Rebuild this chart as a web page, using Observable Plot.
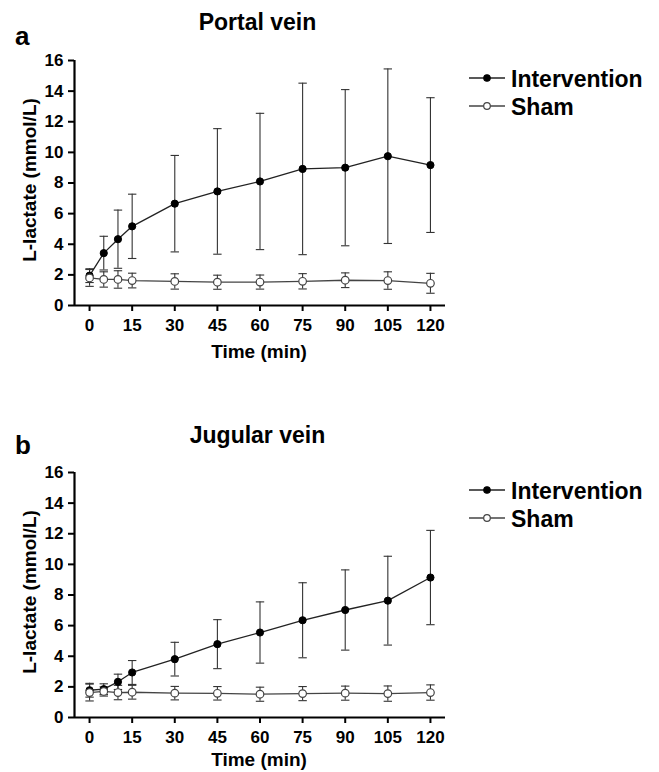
<!DOCTYPE html>
<html>
<head>
<meta charset="utf-8">
<script src="https://cdn.jsdelivr.net/npm/d3@7"></script>
<script src="https://cdn.jsdelivr.net/npm/@observablehq/plot@0.6"></script>
<style>
  html, body { margin: 0; padding: 0; background: #fff; }
  #wrap { position: relative; width: 659px; height: 772px; overflow: hidden; background: #fff; }
  .panel { position: absolute; left: 0; }
  #overlay { position: absolute; left: 0; top: 0; }
</style>
</head>
<body>
<div id="wrap"></div>
<script>
// ---- data ----
const times = [0, 5, 10, 15, 30, 45, 60, 75, 90, 105, 120];
const xTicks = [0, 15, 30, 45, 60, 75, 90, 105, 120];
const yTicks = [0, 2, 4, 6, 8, 10, 12, 14, 16];
const seriesNames = ["Intervention", "Sham"];
const panelTitles = ["Portal vein", "Jugular vein"];
const panelLetters = ["a", "b"];
const xLabel = "Time (min)";
const yLabel = "L-lactate (mmol/L)";

const portalInterventionMean = [1.95, 3.42, 4.33, 5.17, 6.65, 7.45, 8.10, 8.92, 9.00, 9.75, 9.17];
const portalInterventionSD   = [0.45, 1.10, 1.90, 2.10, 3.15, 4.10, 4.45, 5.60, 5.10, 5.70, 4.40];
const portalShamMean         = [1.80, 1.70, 1.70, 1.63, 1.57, 1.52, 1.53, 1.58, 1.65, 1.63, 1.45];
const portalShamSD           = [0.55, 0.50, 0.57, 0.48, 0.50, 0.46, 0.46, 0.50, 0.48, 0.57, 0.65];

const jugularInterventionMean = [1.78, 1.85, 2.33, 2.94, 3.81, 4.79, 5.55, 6.35, 7.02, 7.63, 9.14];
const jugularInterventionSD   = [0.45, 0.35, 0.50, 0.78, 1.10, 1.60, 2.00, 2.45, 2.62, 2.90, 3.08];
const jugularShamMean         = [1.63, 1.70, 1.63, 1.65, 1.59, 1.58, 1.52, 1.56, 1.59, 1.56, 1.63];
const jugularShamSD           = [0.55, 0.30, 0.47, 0.45, 0.44, 0.44, 0.46, 0.46, 0.46, 0.50, 0.50];

const FONT = "'Liberation Sans', Arial, Helvetica, sans-serif";
const xDomain = [-5.3, 125.3];
const yDomain = [0, 16];

const capSymbol = {
  draw(ctx, size) {
    const r = Math.sqrt(size / Math.PI);
    ctx.moveTo(-r, 0);
    ctx.lineTo(r, 0);
  }
};

function rows(mean, sd, g) {
  return times.map((t, i) => ({t, m: mean[i], lo: mean[i] - sd[i], hi: mean[i] + sd[i], g}));
}

function panel(intM, intSD, shamM, shamSD) {
  const I = rows(intM, intSD, seriesNames[0]);
  const S = rows(shamM, shamSD, seriesNames[1]);
  const all = I.concat(S);
  return Plot.plot({
    width: 460,
    height: 370,
    marginLeft: 74,
    marginRight: 15,
    marginTop: 60,
    marginBottom: 65,
    style: {fontFamily: FONT, fontWeight: "bold", fontSize: "17px", color: "#000", background: "transparent", overflow: "visible"},
    x: {domain: xDomain},
    y: {domain: yDomain},
    marks: [
      Plot.ruleX(all, {x: "t", y1: "lo", y2: "hi", stroke: "#333", strokeWidth: 1.1}),
      Plot.dot(all, {x: "t", y: "lo", symbol: capSymbol, r: 4.2, stroke: "#333", strokeWidth: 1.1, fill: "none"}),
      Plot.dot(all, {x: "t", y: "hi", symbol: capSymbol, r: 4.2, stroke: "#333", strokeWidth: 1.1, fill: "none"}),
      Plot.line(I, {x: "t", y: "m", stroke: "#222", strokeWidth: 1.3}),
      Plot.line(S, {x: "t", y: "m", stroke: "#444", strokeWidth: 1.3}),
      Plot.dot(I, {x: "t", y: "m", r: 3.6, fill: "#000", stroke: "#000", strokeWidth: 1}),
      Plot.dot(S, {x: "t", y: "m", r: 3.8, fill: "#fff", stroke: "#444", strokeWidth: 1.2}),
      Plot.ruleX([xDomain[0]], {stroke: "#000", strokeWidth: 2.2}),
      Plot.ruleY([yDomain[0]], {stroke: "#000", strokeWidth: 2.2}),
      Plot.axisX(xTicks, {tickSize: 6, tickPadding: 7, strokeWidth: 2, fontSize: "17px", fontWeight: "bold", label: null}),
      Plot.axisY(yTicks, {tickSize: 6, tickPadding: 5, strokeWidth: 2, fontSize: "17px", fontWeight: "bold", label: null})
    ]
  });
}

const wrap = document.getElementById("wrap");
const pA = panel(portalInterventionMean, portalInterventionSD, portalShamMean, portalShamSD);
pA.classList.add("panel"); pA.style.top = "0px";
wrap.appendChild(pA);
const pB = panel(jugularInterventionMean, jugularInterventionSD, jugularShamMean, jugularShamSD);
pB.classList.add("panel"); pB.style.top = "412px";
wrap.appendChild(pB);

// ---- text overlay: titles, panel letters, axis labels, legends ----
const ov = d3.select(wrap).append("svg").attr("id", "overlay")
  .attr("width", 659).attr("height", 772)
  .style("font-family", FONT).style("font-weight", "bold").style("fill", "#000");

const offsets = [0, 412];
offsets.forEach((dy, k) => {
  ov.append("text").attr("x", 15).attr("y", 45 + dy + (k ? -3 : 0)).attr("font-size", 26).text(panelLetters[k]);
  ov.append("text").attr("x", 257.5).attr("y", 30 + dy + (k ? 1 : 0)).attr("text-anchor", "middle").attr("font-size", 23).text(panelTitles[k]);
  ov.append("text").attr("x", 259).attr("y", k ? 766 : 358).attr("text-anchor", "middle").attr("font-size", 19).text(xLabel);
  ov.append("text").attr("transform", `translate(36,${180 + dy}) rotate(-90)`).attr("text-anchor", "middle").attr("font-size", 19).text(yLabel);
  // legend
  const legY = [78 + dy, 106 + dy];
  seriesNames.forEach((name, j) => {
    const y = legY[j];
    ov.append("line").attr("x1", 469).attr("x2", 505).attr("y1", y).attr("y2", y)
      .attr("stroke", j ? "#444" : "#222").attr("stroke-width", 1.4);
    ov.append("circle").attr("cx", 487).attr("cy", y).attr("r", j ? 3.3 : 3.2)
      .attr("fill", j ? "#fff" : "#000").attr("stroke", j ? "#444" : "#000").attr("stroke-width", 1.2);
    ov.append("text").attr("x", 511).attr("y", y + 8.5).attr("font-size", 23).text(name);
  });
});
</script>
</body>
</html>
